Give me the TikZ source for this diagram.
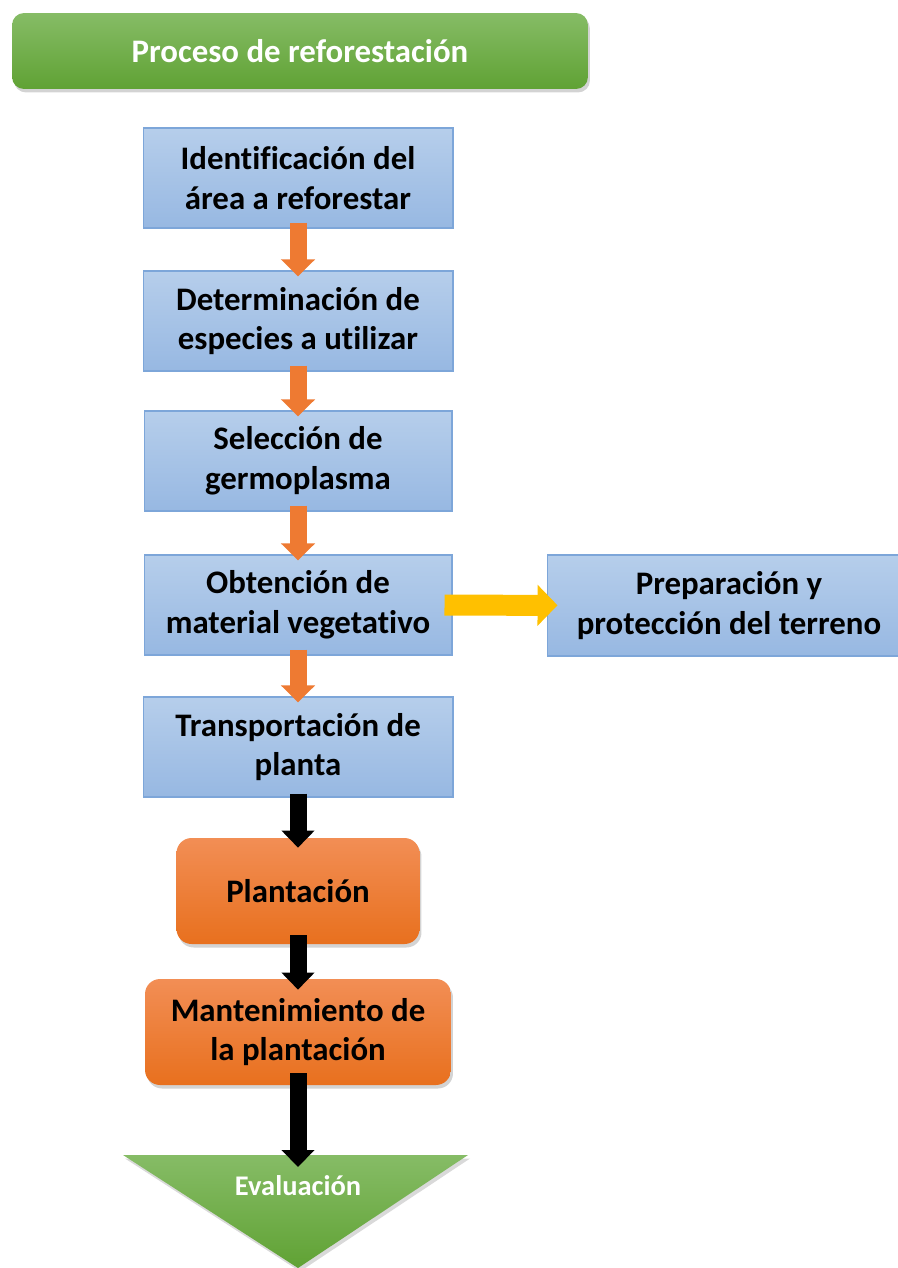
\documentclass[tikz,border=0pt]{standalone}
\usepackage{fontspec}
\setmainfont{Carlito}[Ligatures=CommonOff]
\usetikzlibrary{arrows.meta,shadows}

\definecolor{azularriba}{HTML}{B6CEEB}
\definecolor{azulabajo}{HTML}{97B8E2}
\definecolor{azulborde}{HTML}{7DA6D9}
\definecolor{naranjaarriba}{HTML}{F28E55}
\definecolor{naranjaabajo}{HTML}{E8701E}
\definecolor{verdearriba}{HTML}{86BC66}
\definecolor{verdeabajo}{HTML}{60A234}
\definecolor{flechanaranja}{HTML}{EE7A32}
\definecolor{flechaamarilla}{HTML}{FFC000}

\tikzset{
  texto/.style={font=\fontsize{18.7}{22.7}\selectfont\bfseries, align=center, inner sep=0pt},
  paso/.style={texto, draw=azulborde, line width=0.6pt, top color=azularriba,
    bottom color=azulabajo, minimum height=2cm},
  etapa/.style={texto, rounded corners=0.3cm, top color=naranjaarriba,
    bottom color=naranjaabajo, minimum height=2.12cm,
    drop shadow={shadow xshift=0.04cm, shadow yshift=-0.07cm, opacity=0.35}},
  flechanar/.style={draw=flechanaranja, line width=0.34cm,
    -{Triangle[width=0.66cm,length=0.34cm]}, shorten <=-0.12cm, shorten >=-0.12cm},
  flechanegra/.style={draw=black, line width=0.34cm,
    -{Triangle[width=0.64cm,length=0.34cm]}},
  flechaam/.style={draw=flechaamarilla, line width=0.42cm,
    -{Triangle[width=0.8cm,length=0.4cm]}, shorten <=-0.16cm, shorten >=-0.22cm}
}

\begin{document}
\begin{tikzpicture}[x=0.02cm, y=-0.02cm]
  \useasboundingbox (0,0) rectangle (898,1268);

  \node[name=titulo, texto, text=white, rounded corners=0.24cm, minimum width=11.52cm,
    minimum height=1.52cm, top color=verdearriba, bottom color=verdeabajo,
    drop shadow={shadow xshift=0.04cm, shadow yshift=-0.07cm, opacity=0.35}]
    at (300,51) {Proceso de reforestaci\'on};

  \node[name=ident, paso, minimum width=6.2cm] at (298,178)
    {Identificaci\'on del\\\'area a reforestar};
  \node[name=especies, paso, minimum width=6.2cm] at (298,321)
    {Determinaci\'on de\\especies a utilizar};
  \node[name=germo, paso, minimum width=6.16cm] at (298,461)
    {Selecci\'on de\\germoplasma};
  \node[name=material, paso, minimum width=6.16cm] at (298,605)
    {Obtenci\'on de\\material vegetativo};
  \node[name=terreno, paso, minimum width=7.28cm, minimum height=2.02cm] at (729,605.5)
    {Preparaci\'on y\\protecci\'on del terreno};
  \node[name=transp, paso, minimum width=6.2cm] at (298,747)
    {Transportaci\'on de\\planta};

  \node[name=plantacion, etapa, minimum width=4.86cm] at (298,891) {Plantaci\'on};
  \node[name=manten, etapa, minimum width=6.12cm] at (298,1032)
    {Mantenimiento de\\la plantaci\'on};

  \path[top color=verdearriba, bottom color=verdeabajo,
    drop shadow={shadow xshift=0.04cm, shadow yshift=-0.07cm, opacity=0.3}]
    (123,1155) -- (468,1155) -- (298,1268) -- cycle;
  \coordinate (evalarriba) at (298,1155);
  \node[name=evaluacion, text=white, font=\fontsize{16.2}{19}\selectfont\bfseries,
    inner sep=0pt] at (298,1186) {Evaluaci\'on};

  \draw[flechanar] (ident) -- (especies);
  \draw[flechanar] (especies) -- (germo);
  \draw[flechanar] (germo) -- (material);
  \draw[flechanar] (material) -- (transp);
  \draw[flechaam] (material) -- (terreno);
  \draw[flechanegra, shorten <=-0.08cm, shorten >=-0.2cm] (transp) -- (plantacion);
  \draw[flechanegra, shorten <=-0.18cm, shorten >=-0.22cm] (plantacion) -- (manten);
  \draw[flechanegra, shorten <=-0.24cm, shorten >=-0.24cm] (manten) -- (evalarriba);
\end{tikzpicture}
\end{document}
